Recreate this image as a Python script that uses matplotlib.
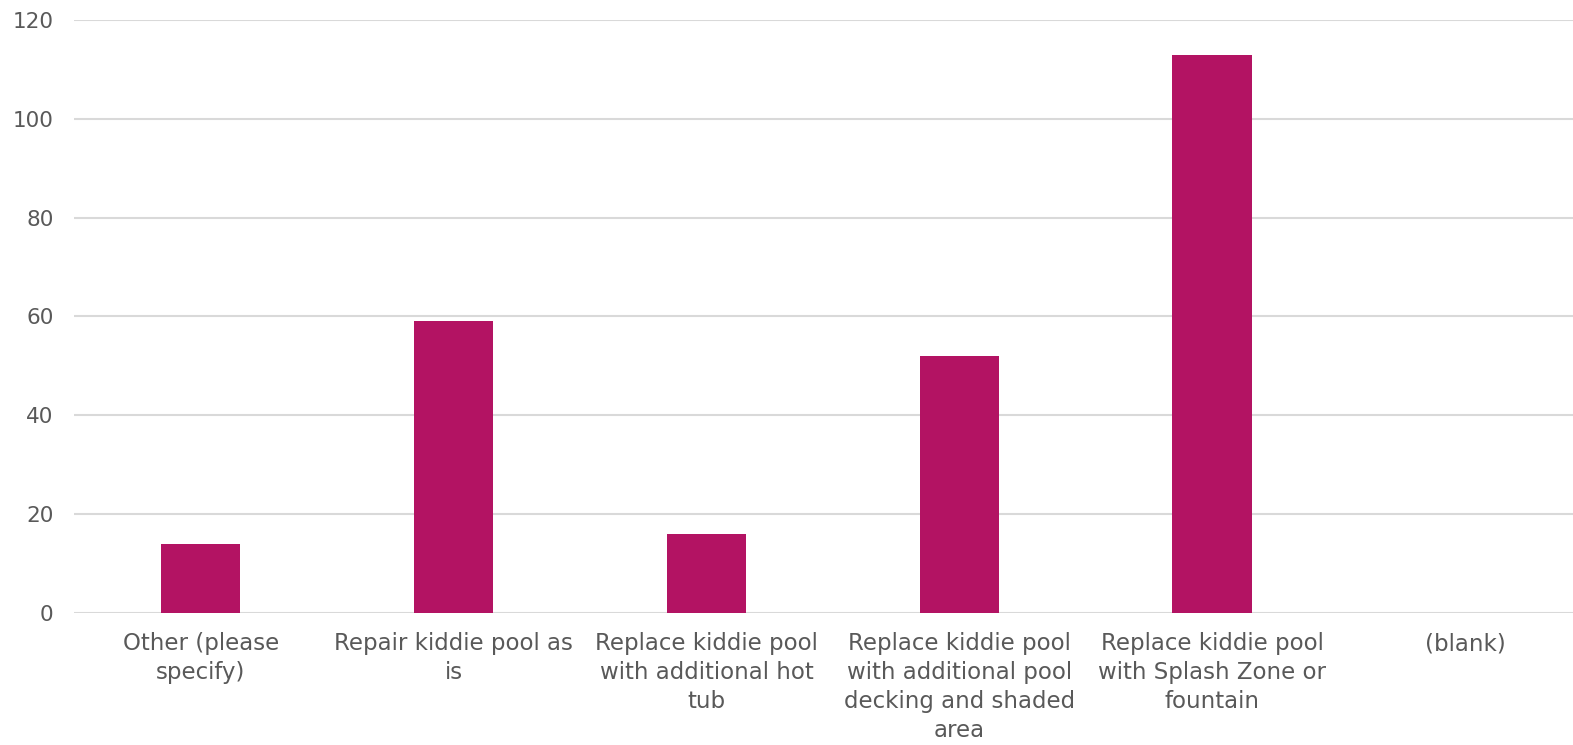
import numpy as np
import matplotlib.pyplot as plt

categories = [
    "Other (please\nspecify)",
    "Repair kiddie pool as\nis",
    "Replace kiddie pool\nwith additional hot\ntub",
    "Replace kiddie pool\nwith additional pool\ndecking and shaded\narea",
    "Replace kiddie pool\nwith Splash Zone or\nfountain",
    "(blank)",
]
counts = [14, 59, 16, 52, 113, 0]
yticks = [0, 20, 40, 60, 80, 100, 120]

plt.rcParams['font.family'] = ['DejaVu Sans']
text_color = '#595959'

fig = plt.figure(figsize=(15.73, 7.45), dpi=100)
# plot area runs slightly past the right edge of the canvas
ax = fig.add_axes([0.0472, 0.1772, 0.9645, 0.796])

x = np.arange(len(categories))
ax.bar(x, counts, width=0.314, color='#B31363', zorder=3)

ax.set_xlim(-0.5, len(categories) - 0.5)
ax.set_ylim(0, 120)
ax.set_yticks(yticks)
ax.set_xticks(x)
ax.set_xticklabels(categories, fontsize=16.5, color=text_color, linespacing=1.32, va='top')
ax.tick_params(axis='y', length=0, pad=15, labelsize=15.5, labelcolor=text_color)
ax.tick_params(axis='x', length=0, pad=14)
ax.grid(axis='y', color='#D9D9D9', linewidth=1.5, zorder=0)
for s in ax.spines.values():
    s.set_visible(False)

fig.savefig('out.png', dpi=100)
